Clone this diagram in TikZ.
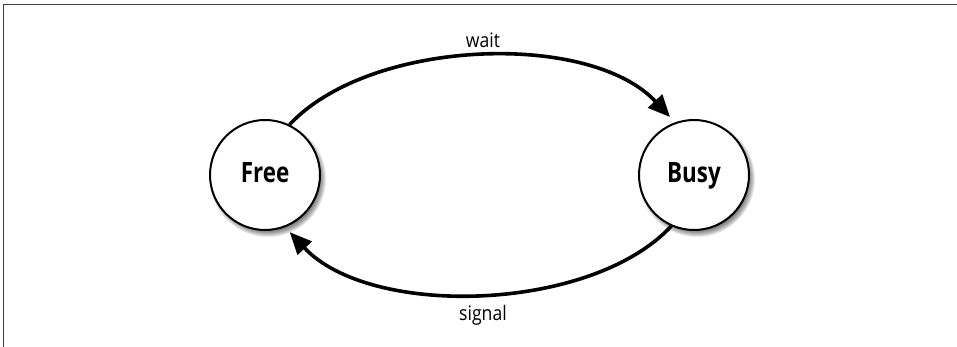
\documentclass[tikz,border=0pt]{standalone}
\usepackage{fontspec}
\setmainfont{Open Sans}
\usetikzlibrary{arrows.meta,calc}
\tikzset{
  state/.style={circle, draw=black, line width=2pt, fill=white, minimum size=110pt, inner sep=0pt,
    text height=20pt, text depth=5pt, font=\fontsize{28}{30}\selectfont\bfseries},
  trans/.style={line width=3.6pt, -{Triangle[length=22pt, width=19pt]}},
  lbl/.style={inner sep=0pt, anchor=base, font=\fontsize{20}{22}\selectfont},
  frame/.style={line width=1pt, draw=black!75}
}
\newcommand{\softshadow}[1]{%
  \foreach \k in {0,...,7} {
    \fill[black, opacity=0.09] ($(#1)+(3pt,-4pt)$) circle ({58pt-\k*1pt});
  }%
}
\begin{document}
\begin{tikzpicture}[x=1pt,y=1pt]
\useasboundingbox (0,0) rectangle (957,347);
\fill[white] (0,0) rectangle (957,347);
\coordinate (tl) at (3,342);
\coordinate (tr) at (957,342);
\coordinate (bl) at (3,0);
\draw[frame] (tr) -- (tl) -- (bl);
\coordinate (fc) at (265,172);
\coordinate (bc) at (694,172);
\softshadow{fc}
\softshadow{bc}
\node[state] (free) at (fc) {\scalebox{0.8}[1]{Free}};
\node[state] (busy) at (bc) {\scalebox{0.8}[1]{Busy}};
\node[lbl] (wait) at (483,299) {\scalebox{0.88}[1]{wait}};
\node[lbl] (signal) at (483,26) {\scalebox{0.88}[1]{signal}};
\draw[trans] (free.64) .. controls +(47:118) and +(133:118) .. ([shift={(-3,6)}]busy.112);
\draw[trans] (busy.-114) .. controls +(-133:118) and +(-47:118) .. ([shift={(2,-6)}]free.-66);
\end{tikzpicture}
\end{document}
